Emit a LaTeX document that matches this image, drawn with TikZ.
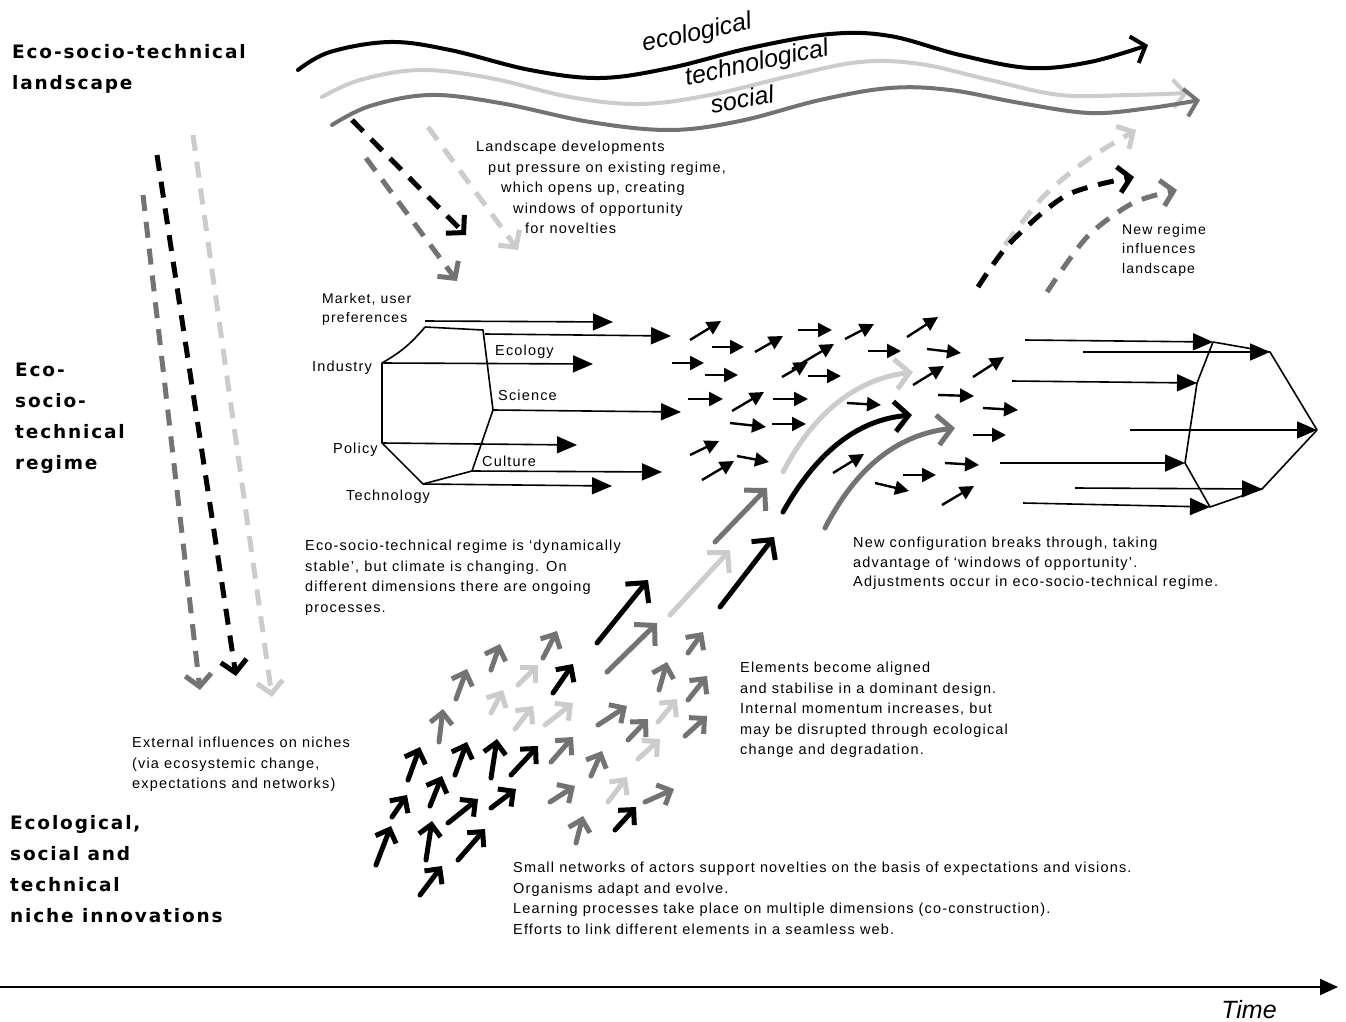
\documentclass[tikz,border=0pt]{standalone}
\usepackage{fontspec}
\setmainfont{Liberation Sans}
\newfontfamily\labf{DejaVu Sans}[LetterSpace=10]
\newfontfamily\txtf{Liberation Sans}[LetterSpace=8]
\usetikzlibrary{arrows.meta}
\definecolor{lgc}{gray}{0.80}
\definecolor{dgc}{gray}{0.45}
\begin{document}
\begin{tikzpicture}[x=1pt,y=-1pt,
  txt/.style={font=\txtf\fontsize{14.5}{20.5}\selectfont, align=left, anchor=north west, inner sep=0pt},
  lab/.style={font=\labf\bfseries\fontsize{18.5}{31}\selectfont, align=left, anchor=north west, inner sep=0pt},
  hand/.style={font=\itshape\fontsize{25}{25}\selectfont, inner sep=0pt},
  harr/.style={line width=1.6pt, -{Triangle[length=20pt,width=17pt]}},
  sarr/.style={line width=2.4pt, -{Triangle[length=14pt,width=14pt]}},
  narr/.style={line width=5pt, line cap=round, line join=round, -{Straight Barb[length=11pt,width=22pt]}},
  barr/.style={line width=5pt, line cap=round, -{Straight Barb[length=14pt,width=30pt]}},
  dsh/.style={line width=5pt, dash pattern=on 16pt off 11pt, -{Straight Barb[length=12pt,width=26pt]}},
  wave/.style={line width=4pt, line cap=round, -{Straight Barb[length=12pt,width=28pt]}},
]
\useasboundingbox[fill=white] (0,0) rectangle (1346,1022);

% ---------- landscape waves ----------
\draw[wave, lgc] plot[smooth, tension=0.6] coordinates {(322,97) (360,80) (420,70) (490,78) (570,97) (640,104) (710,95) (790,76) (860,62) (920,64) (990,80) (1060,95) (1130,95) (1188,93)};
\draw[wave, black] plot[smooth, tension=0.6] coordinates {(298,70) (330,52) (390,42) (450,50) (530,70) (600,78) (670,68) (750,48) (830,34) (890,36) (960,55) (1030,68) (1090,62) (1148,45)};
\draw[wave, dgc] plot[smooth, tension=0.6] coordinates {(332,125) (370,106) (430,95) (500,103) (590,122) (670,130) (740,121) (820,100) (890,88) (950,90) (1020,103) (1090,113) (1150,108) (1200,100)};
\node[hand, rotate=12] (eco) at (697,34) {ecological};
\node[hand, rotate=12] (tech) at (757,64) {technological};
\node[hand, rotate=10] (soc) at (742,99) {social};

% ---------- left labels ----------
\node[lab] (landscape) at (12,44) {Eco-socio-technical\\landscape};
\node[lab] (regime) at (15,363) {Eco-\\socio-\\technical\\regime};
\node[lab] (niche) at (10,815) {Ecological,\\social and\\technical\\niche innovations};

% ---------- left descending dashed arrows ----------
\draw[dsh, dgc] (143,195) -- (200,690);
\draw[dsh, lgc] (193,135) -- (272,697);
\draw[dsh, black] (157,155) -- (236,676);

% ---------- landscape pressure arrows ----------
\draw[dsh, lgc] (428,127) -- (518,250);
\draw[dsh, dgc] (366,158) -- (457,281);
\draw[dsh, black] (352,120) -- (466,235);

\node[txt] (press) at (476,141) {Landscape developments\\
\hspace*{12pt}put pressure on existing regime,\\
\hspace*{25pt}which opens up, creating\\
\hspace*{37pt}windows of opportunity\\
\hspace*{49pt}for novelties};

% ---------- regime hexagon ----------
\coordinate (mk) at (425,327);
\coordinate (tr) at (483,330);
\coordinate (sc) at (493,410);
\coordinate (cu) at (472,471);
\coordinate (te) at (423,484);
\coordinate (po) at (382,443);
\coordinate (in) at (382,363);
\draw[line width=1.6pt, line join=round] (mk) -- (tr) -- (sc) -- (cu) -- (te) -- (po) -- (in) to[bend right=10] (mk);
\draw[harr] (425,321) -- (613,322);
\draw[harr] (485,334) -- (671,336);
\draw[harr] (in) -- (593,364);
\draw[harr] (sc) -- (681,412);
\draw[harr] (po) -- (577,445);
\draw[harr] (cu) -- (662,472);
\draw[harr] (te) -- (612,486);
\node[txt, font=\txtf\fontsize{14}{19}\selectfont] (market) at (322,293) {Market, user\\preferences};
\node[txt, anchor=west] (industry) at (312,368) {Industry};
\node[txt, anchor=west] (policy) at (333,450) {Policy};
\node[txt, anchor=west] (technology) at (346,497) {Technology};
\node[txt, anchor=west] (ecology) at (495,352) {Ecology};
\node[txt, anchor=west] (science) at (498,395) {Science};
\node[txt, anchor=west] (culture) at (482,461) {Culture};

% ---------- cluster of small arrows ----------
\foreach \a/\b/\c/\d in {
 690/340/721/321, 712/347/744/347, 755/352/783/336, 798/330/832/330,
 845/339/874/324, 907/337/938/317, 672/363/704/363, 705/375/738/375,
 782/377/808/362, 792/369/834/344, 808/376/841/376, 868/351/901/351,
 927/349/961/353, 913/385/944/366, 973/377/1004/357, 688/399/723/399,
 732/411/764/392, 773/399/808/399, 730/423/766/427, 772/424/806/424,
 847/403/881/405, 938/395/974/396, 983/408/1018/410, 973/435/1006/435,
 690/455/719/441, 702/480/734/461, 737/456/769/462, 833/473/864/454,
 875/483/909/491, 903/475/936/475, 945/463/979/465, 942/505/974/486}
 \draw[sarr] (\a,\b) -- (\c,\d);

% ---------- right group ----------
\coordinate (r1) at (1213,342);
\coordinate (r2) at (1270,352);
\coordinate (r3) at (1197,383);
\coordinate (r4) at (1317,430);
\coordinate (r5) at (1185,463);
\coordinate (r6) at (1262,489);
\coordinate (r7) at (1210,507);
\draw[line width=1.6pt, line join=round] (r1) -- (r3) -- (r5) -- (r7) -- (r6) -- (r4) -- (r2) -- (r1);
\draw[harr] (1025,340) -- (r1);
\draw[harr] (1083,352) -- (r2);
\draw[harr] (1012,381) -- (r3);
\draw[harr] (1130,430) -- (r4);
\draw[harr] (1000,463) -- (r5);
\draw[harr] (1075,488) -- (r6);
\draw[harr] (1023,503) -- (r7);

% ---------- new regime influences landscape ----------
\draw[dsh, lgc] plot[smooth] coordinates {(1005,245) (1043,197) (1087,160) (1136,130)};
\draw[dsh, black] plot[smooth] coordinates {(978,287) (1010,243) (1067,195) (1134,177)};
\draw[dsh, dgc] plot[smooth] coordinates {(1047,292) (1087,237) (1133,203) (1177,190)};
\node[txt, font=\txtf\fontsize{14}{19.5}\selectfont] (newreg) at (1122,224) {New regime\\influences\\landscape};

% ---------- breakthrough arrows ----------
\draw[barr, lgc] (783,472) .. controls (810,420) and (850,380) .. (913,372);
\draw[barr, black] (783,512) .. controls (815,455) and (855,420) .. (912,415);
\draw[barr, dgc] (825,528) .. controls (855,470) and (895,435) .. (955,428);
\draw[barr, black] (597,643) -- (648,580);
\draw[barr, dgc] (607,672) -- (657,623);
\draw[barr, lgc] (670,615) -- (730,550);
\draw[barr, dgc] (715,542) -- (767,488);
\draw[barr, black] (720,607) -- (774,537);

% ---------- niche arrows ----------
\foreach \a/\b/\c/\d in {
 518/685/538/665, 491/713/503/690, 515/729/533/706, 545/725/573/703,
 608/802/627/777, 638/759/660/739, 658/722/677/699}
 \draw[narr, lgc] (\a,\b) -- (\c,\d);
\foreach \a/\b/\c/\d in {
 439/742/443/709, 456/699/467/669, 491/670/500/644, 543/658/557/631,
 551/762/573/737, 550/802/575/786, 576/843/583/816, 591/776/602/751,
 598/725/627/706, 628/740/648/719, 645/802/674/789, 659/690/667/662,
 688/653/703/632, 688/700/707/676, 685/736/707/716}
 \draw[narr, dgc] (\a,\b) -- (\c,\d);
\foreach \a/\b/\c/\d in {
 376/865/391/826, 426/860/432/821, 420/895/442/866, 458/860/485/829,
 392/817/407/795, 430/806/442/776, 448/823/478/799, 491/808/516/789,
 408/780/420/747, 455/775/467/742, 491/778/497/739, 511/775/538/746,
 553/693/573/664, 615/830/636/807}
 \draw[narr, black] (\a,\b) -- (\c,\d);

% ---------- texts ----------
\node[txt] (stable) at (305,540) {Eco-socio-technical regime is ‘dynamically\\stable’, but climate is changing. On\\different dimensions there are ongoing\\processes.};
\node[txt, font=\txtf\fontsize{14.5}{19.5}\selectfont] (config) at (853,537) {New configuration breaks through, taking\\advantage of ‘windows of opportunity’.\\Adjustments occur in eco-socio-technical regime.};
\node[txt] (aligned) at (740,662) {Elements become aligned\\and stabilise in a dominant design.\\Internal momentum increases, but\\may be disrupted through ecological\\change and degradation.};
\node[txt] (external) at (132,737) {External influences on niches\\(via ecosystemic change,\\expectations and networks)};
\node[txt] (small) at (513,862) {Small networks of actors support novelties on the basis of expectations and visions.\\Organisms adapt and evolve.\\Learning processes take place on multiple dimensions (co-construction).\\Efforts to link different elements in a seamless web.};

% ---------- time axis ----------
\coordinate (t0) at (0,987);
\coordinate (t1) at (1338,987);
\draw[line width=2pt, -{Triangle[length=18pt,width=16pt]}] (t0) -- (t1);
\node[hand] (time) at (1249,1010) {Time};
\end{tikzpicture}
\end{document}
